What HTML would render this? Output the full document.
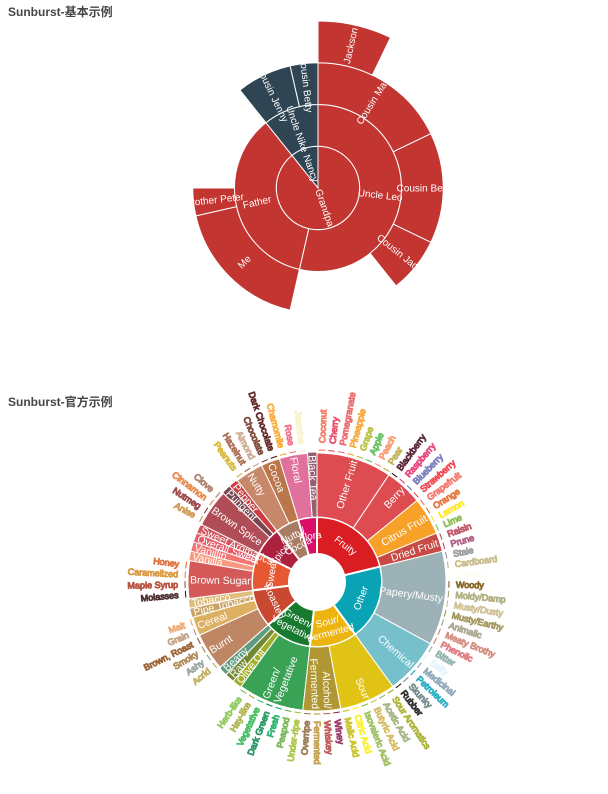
<!DOCTYPE html>
<html><head><meta charset="utf-8">
<style>
html,body{margin:0;padding:0;background:#fff;width:608px;height:794px;overflow:hidden}
.title{position:absolute;left:8px;font:bold 12px "Liberation Sans","Noto Sans CJK SC",sans-serif;color:#464646}
svg{position:absolute;left:0;top:0}
text{font-family:"Liberation Sans","Noto Sans CJK SC",sans-serif}
</style></head>
<body>
<div class="title" style="top:3px">Sunburst-基本示例</div>
<div class="title" style="top:393px">Sunburst-官方示例</div>
<svg id="sv" width="608" height="794"></svg>
<script>
// ---- Basic family sunburst data ----
const famNames = ['Grandpa','Uncle Leo','Cousin Jack','Cousin Mary','Jackson','Cousin Ben','Father','Me','Brother Peter','Nancy','Uncle Nike','Cousin Betty','Cousin Jenny'];
const famParents = [-1,0,1,1,3,1,0,6,6,-1,9,10,10];
const famValues = [0,15,2,5,2,4,10,5,1,0,0,1,2];
const famColors = ['#c23531','#2f4554'];

// ---- Coffee flavor data ----
const flvNames = [
'Flora','Black Tea','Floral','Chamomile','Rose','Jasmine',
'Fruity','Berry','Blackberry','Raspberry','Blueberry','Strawberry','Dried Fruit','Raisin','Prune','Other Fruit','Coconut','Cherry','Pomegranate','Pineapple','Grape','Apple','Peach','Pear','Citrus Fruit','Grapefruit','Orange','Lemon','Lime',
'Sour/\nFermented','Sour','Sour Aromatics','Acetic Acid','Butyric Acid','Isovaleric Acid','Citric Acid','Malic Acid','Alcohol/\nFermented','Winey','Whiskey','Fermented','Overripe',
'Green/\nVegetative','Olive Oil','Raw','Green/\nVegetative','Under-ripe','Peapod','Fresh','Dark Green','Vegetative','Hay-like','Herb-like','Beany',
'Other','Papery/Musty','Stale','Cardboard','Papery','Woody','Moldy/Damp','Musty/Dusty','Musty/Earthy','Animalic','Meaty Brothy','Phenolic','Chemical','Bitter','Salty','Medicinal','Petroleum','Skunky','Rubber',
'Roasted','Pipe Tobacco','Tobacco','Burnt','Acrid','Ashy','Smoky','Brown, Roast','Cereal','Grain','Malt',
'Spices','Pungent','Pepper','Brown Spice','Anise','Nutmeg','Cinnamon','Clove',
'Nutty/\nCocoa','Nutty','Peanuts','Hazelnut','Almond','Cocoa','Chocolate','Dark Chocolate',
'Sweet','Brown Sugar','Molasses','Maple Syrup','Caramelized','Honey','Vanilla','Vanillin','Overall Sweet','Sweet Aromatics'];
const flvParents = [
-1,0,0,2,2,2,
-1,6,7,7,7,7,6,12,12,6,15,15,15,15,15,15,15,15,6,24,24,24,24,
-1,29,30,30,30,30,30,30,29,37,37,37,37,
-1,42,42,42,45,45,45,45,45,45,45,42,
-1,54,55,55,55,55,55,55,55,55,55,55,54,66,66,66,66,66,66,
-1,73,73,73,76,76,76,76,73,81,81,
-1,84,84,84,87,87,87,87,
-1,92,93,93,93,92,97,97,
-1,100,101,101,101,101,100,100,100,100];
const flvValues = [
0,1,0,1,1,1,
0,0,1,1,1,1,0,1,1,0,1,1,1,1,1,1,1,1,0,1,1,1,1,
0,0,1,1,1,1,1,1,0,1,1,1,1,
0,1,1,0,1,1,1,1,1,1,1,1,
0,0,1,1,1,1,1,1,1,1,1,1,0,1,1,1,1,1,1,
0,1,1,0,1,1,1,1,0,1,1,
0,1,1,0,1,1,1,1,
0,0,1,1,1,0,1,1,
0,0,1,1,1,1,1,1,1,1];
const flvColors = [
'#da0d68','#975e6d','#e0719c','#f99e1c','#ef5a78','#f7f1bd',
'#da1d23','#dd4c51','#3e0317','#e62969','#6569b0','#ef2d36','#c94a44','#b53b54','#a5446f','#dd4c51','#f2684b','#e73451','#e65656','#f89a1c','#aeb92c','#4eb849','#f68a5c','#baa635','#f7a128','#f26355','#e2631e','#fde404','#7eb138',
'#ebb40f','#e1c315','#9ea718','#94a76f','#d0b24f','#8eb646','#faef07','#c1ba07','#b09733','#8f1c53','#b34039','#ba9232','#8b6439',
'#187a2f','#a2b029','#718933','#3aa255','#a2bb2b','#62aa3c','#03a653','#038549','#28b44b','#a3a830','#7ac141','#5e9a80',
'#0aa3b5','#9db2b7','#8b8c90','#beb276','#fefef4','#744e03','#a3a36f','#c9b583','#978847','#9d977f','#cc7b6a','#db646a','#76c0cb','#80a89d','#def2fd','#7a9bae','#039fb8','#5e777b','#120c0c',
'#c94930','#caa465','#dfbd7e','#be8663','#b9a449','#899893','#a1743b','#894810','#ddaf61','#b7906f','#eb9d5f',
'#ad213e','#794752','#cc3d41','#b14d57','#c78936','#8c292c','#e5762e','#a16c5a',
'#a87b64','#c78869','#d4ad12','#9d5433','#c89f83','#bb764c','#692a19','#470604',
'#e65832','#d45a59','#310d0f','#ae341f','#d78823','#da5c1f','#f89a80','#f37674','#e75b68','#d0545f'];

const NS='http://www.w3.org/2000/svg';
const svg=document.getElementById('sv');

function build(names,parents,values,colors){
  const nodes=names.map((n,i)=>({name:n,idx:i,children:[],value:values[i],color:colors?colors[i]:null,depth:0}));
  const roots=[];
  parents.forEach((p,i)=>{ if(p<0) roots.push(nodes[i]); else nodes[p].children.push(nodes[i]); });
  function sum(n,d){ n.depth=d; if(n.children.length){ const s=n.children.reduce((t,c)=>t+sum(c,d+1),0); if(!n.value) n.value=s; n.children.sort((a,b)=>b.value-a.value);} return n.value; }
  roots.forEach(r=>sum(r,1));
  roots.sort((a,b)=>b.value-a.value);
  return roots;
}
function layout(roots,out){
  const tot=roots.reduce((s,n)=>s+n.value,0); const unit=2*Math.PI/tot;
  function place(list,a){ list.forEach(n=>{ n.a0=a; n.a1=a+n.value*unit; a=n.a1; out.push(n); if(n.children.length) place(n.children,n.a0); }); }
  place(roots,0);
  return out;
}
function pt(cx,cy,r,a){ return [cx+r*Math.sin(a), cy-r*Math.cos(a)]; }
function arcPath(cx,cy,r0,r1,a0,a1){
  if(a1-a0>=2*Math.PI-1e-6){ a1=a0+2*Math.PI-1e-4; }
  const large=(a1-a0)>Math.PI?1:0;
  const p1=pt(cx,cy,r1,a0),p2=pt(cx,cy,r1,a1);
  let d=`M${p1[0]},${p1[1]}A${r1},${r1} 0 ${large} 1 ${p2[0]},${p2[1]}`;
  if(r0>0){ const p3=pt(cx,cy,r0,a1),p4=pt(cx,cy,r0,a0); d+=`L${p3[0]},${p3[1]}A${r0},${r0} 0 ${large} 0 ${p4[0]},${p4[1]}Z`; }
  else d+=`L${cx},${cy}Z`;
  return d;
}
function slug(s){ return s.toLowerCase().replace(/[^a-z0-9]+/g,'-').replace(/^-|-$/g,''); }
function addText(g,name,x,y,rot,anchor,size,fill,stroke){
  const t=document.createElementNS(NS,'text');
  
  
  t.setAttribute('transform',`translate(${x},${y}) rotate(${rot})`);
  t.setAttribute('text-anchor',anchor);
  t.setAttribute('font-size',size);
  t.setAttribute('fill',fill);
  if(stroke){ t.setAttribute('stroke',stroke); t.setAttribute('stroke-width','1'); t.setAttribute('stroke-opacity','0.85'); t.setAttribute('stroke-linejoin','round'); }
  const lines=name.split('\n'); const lh=size*1.15;
  lines.forEach((l,i)=>{ const ts=document.createElementNS(NS,'tspan'); ts.setAttribute('x',0); ts.setAttribute('y',((i-(lines.length-1)/2)*lh+size*0.35).toFixed(2)); ts.textContent=l; t.appendChild(ts); });
  g.appendChild(t);
}
function deg(a){ return a*180/Math.PI; }

// ---------- Chart 1 ----------
(function(){
  const roots=build(famNames,famParents,famValues,null);
  roots.forEach((r,i)=>{ (function paint(n,c){ n.color=c; n.children.forEach(ch=>paint(ch,c)); })(r,famColors[i]); });
  const all=layout(roots,[]);
  const cx=318,cy=188,w=41.75;
  const g=document.createElementNS(NS,'g');
  
  
  svg.appendChild(g);
  all.forEach(n=>{
    const p=document.createElementNS(NS,'path');
    
    
    p.setAttribute('d',arcPath(cx,cy,(n.depth-1)*w,n.depth*w,n.a0,n.a1));
    p.setAttribute('fill',n.color); p.setAttribute('stroke','#fff'); p.setAttribute('stroke-width','1');
    g.appendChild(p);
  });
  all.forEach(n=>{
    const m=(n.a0+n.a1)/2, r=(n.depth-0.5)*w;
    const q=pt(cx,cy,r,m); let rot=deg(m)-90;
    if(deg(m)>180) rot+=180;
    addText(g,n.name,q[0],q[1],rot,'middle',10,'#fff');
  });
})();

// ---------- Chart 2 ----------
(function(){
  const roots=build(flvNames,flvParents,flvValues,flvColors);
  const all=layout(roots,[]);
  const cx=317,cy=582;
  const rings={1:[28,65],2:[65,130],3:[130,134]};
  const g=document.createElementNS(NS,'g');
  
  
  svg.appendChild(g);
  all.forEach(n=>{
    const p=document.createElementNS(NS,'path');
    
    
    const rr=rings[n.depth];
    p.setAttribute('d',arcPath(cx,cy,rr[0],rr[1],n.a0,n.a1));
    p.setAttribute('fill',n.color); p.setAttribute('stroke','#fff');
    p.setAttribute('stroke-width',n.depth===3?'3':(n.depth===1?'2':'1'));
    g.appendChild(p);
  });
  all.forEach(n=>{
    const m=(n.a0+n.a1)/2, dm=deg(m);
    if(n.depth===1){
      const q=pt(cx,cy,46.5,m); let rot=dm; if(dm>90&&dm<270) rot-=180;
      addText(g,n.name,q[0],q[1],rot,'middle',10,'#fff');
    } else if(n.depth===2){
      const q=pt(cx,cy,127,m); let rot=dm-90, anc='end';
      if(dm>180){ rot+=180; anc='start'; }
      addText(g,n.name,q[0],q[1],rot,anc,10.5,'#fff');
    } else {
      const q=pt(cx,cy,139,m); let rot=dm-90, anc='start';
      if(dm>180){ rot+=180; anc='end'; }
      addText(g,n.name,q[0],q[1],rot,anc,9,'#fff',n.color);
    }
  });
})();
</script>
</body></html>
